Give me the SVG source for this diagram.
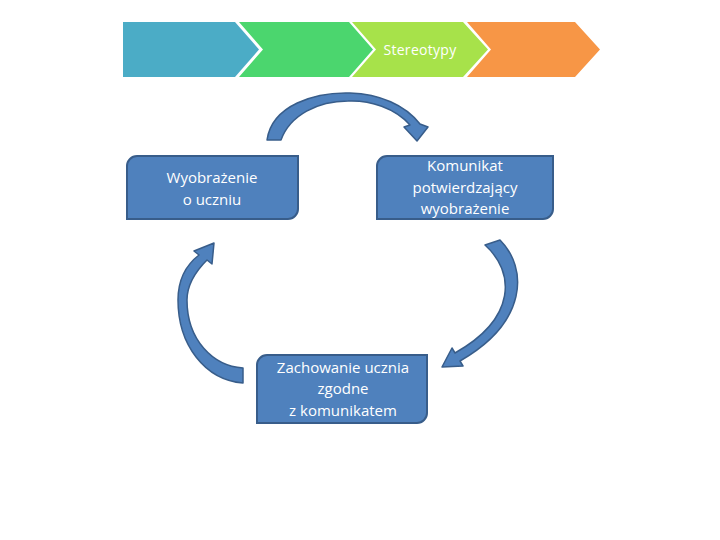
<svg xmlns="http://www.w3.org/2000/svg" width="720" height="540" viewBox="0 0 720 540">
<defs>
<style>
.box{fill:#4f81bd;stroke:#385d8a;stroke-width:2}
.arr{fill:#4f81bd;stroke:#385d8a;stroke-width:1.5;stroke-linejoin:round}
.t{font-family:"Open Sans","Liberation Sans",sans-serif;font-size:15px;fill:#ffffff;text-anchor:middle}
.ch{stroke:none}
</style>
</defs>
<rect width="720" height="540" fill="#ffffff"/>
<g id="chevrons">
<polygon class="ch" fill="#4bacc6" points="123,22 235,22 259,49.5 235,77 123,77"/>
<polygon class="ch" fill="#4bd66e" points="239,22 349,22 373,49.5 349,77 239,77 263,49.5"/>
<polygon class="ch" fill="#a7e24a" points="352,22 463,22 488,49.5 463,77 352,77 376,49.5"/>
<polygon class="ch" fill="#f79646" points="467,22 575,22 600,49.5 575,77 467,77 491,49.5"/>
<text class="t" x="420" y="55" style="font-size:14px;letter-spacing:0.3px">Stereotypy</text>
</g>
<g id="node1">
<path class="box" d="M137,156 H298 V209 A10,10 0 0 1 288,219 H127 V166 A10,10 0 0 1 137,156 Z"/>
<text class="t" x="212" y="183">Wyobrażenie</text>
<text class="t" x="212" y="205">o uczniu</text>
</g>
<g id="node2">
<path class="box" d="M387,156 H553 V209 A10,10 0 0 1 543,219 H377 V166 A10,10 0 0 1 387,156 Z"/>
<text class="t" x="465" y="171">Komunikat</text>
<text class="t" x="465" y="193">potwierdzający</text>
<text class="t" x="465" y="214">wyobrażenie</text>
</g>
<g id="node3">
<path class="box" d="M267,355 H427 V413 A10,10 0 0 1 417,423 H257 V365 A10,10 0 0 1 267,355 Z"/>
<text class="t" x="343" y="373">Zachowanie ucznia</text>
<text class="t" x="343" y="394">zgodne</text>
<text class="t" x="343" y="416">z komunikatem</text>
</g>
<g id="connectors">
<path class="arr" d="M267,140 C272,105 315,92 350,93 C380,94 405,105 420,124 L428,127 L417,141 L404,127 L410,125 C395,108 370,100 348,101 C318,101 290,115 281,140 Z"/>
<path class="arr" d="M500,240 C528,268 528,322 460,361 L463,366 L442,367 L452,348 L455,353 C517,318 515,272 485,245 Z"/>
<path class="arr" d="M243,383 C205,380 178,345 178,300 C178,280 186,265 199,255 L194,251 L214,243 L212,264 L207,260 C195,272 187,285 187,300 C187,340 213,366 243,368 Z"/>
</g>
</svg>
